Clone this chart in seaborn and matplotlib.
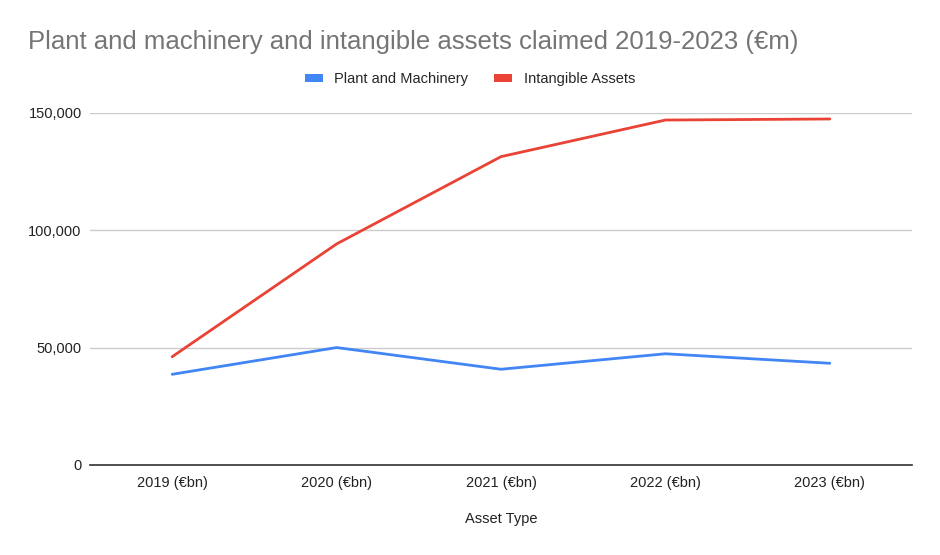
import pandas as pd
import matplotlib.pyplot as plt
import seaborn as sns
from matplotlib.patches import Patch
from matplotlib.ticker import FuncFormatter

# data
years = ['2019 (€bn)', '2020 (€bn)', '2021 (€bn)', '2022 (€bn)', '2023 (€bn)']
plant_machinery = [38650, 50050, 40800, 47400, 43350]
intangible_assets = [46150, 94200, 131400, 147000, 147450]
series_names = ['Plant and Machinery', 'Intangible Assets']
colors = ['#4285F4', '#EA4335']


def main():
    sns.set_style("white")
    plt.rcParams['font.family'] = ['Liberation Sans', 'DejaVu Sans']

    df = pd.DataFrame({
        'Asset Type': years * 2,
        'value': plant_machinery + intangible_assets,
        'series': [series_names[0]] * len(years) + [series_names[1]] * len(years),
    })

    fig = plt.figure(figsize=(9.4, 5.55), dpi=100)
    ax = fig.add_axes([90 / 940, 1 - 465 / 555, (912 - 90) / 940, (465 - 113) / 555])

    sns.lineplot(data=df, x='Asset Type', y='value', hue='series',
                 palette=colors, linewidth=2, ax=ax, legend=False, sort=False)

    ax.set_xlim(-0.5, len(years) - 0.5)
    ax.set_ylim(0, 150000)
    ax.set_yticks([0, 50000, 100000, 150000])
    ax.yaxis.set_major_formatter(FuncFormatter(lambda v, p: f"{int(v):,}"))

    # gridlines
    ax.grid(axis='y', color='#cccccc', linewidth=1)
    ax.set_axisbelow(True)
    for s in ['left', 'right', 'top']:
        ax.spines[s].set_visible(False)
    ax.spines['bottom'].set_color('#333333')
    ax.spines['bottom'].set_linewidth(1.2)
    ax.spines['bottom'].set_zorder(5)
    ax.tick_params(axis='both', length=0, labelsize=10.5, colors='#222222', pad=6)
    ax.tick_params(axis='x', pad=8)

    ax.set_xlabel('Asset Type', fontsize=10.5, color='#222222', labelpad=16)
    ax.set_ylabel('')

    fig.text(28 / 940, 1 - 42 / 555, 'Plant and machinery and intangible assets claimed 2019-2023 (€m)',
             fontsize=18.5, color='#757575', va='center', ha='left')

    # legend
    handles = [Patch(facecolor=c, edgecolor='none') for c in colors]
    fig.legend(handles, series_names, loc='center', bbox_to_anchor=(470 / 940, 1 - 79 / 555),
               ncol=2, frameon=False, fontsize=10.5, handlelength=1.2, handleheight=0.45,
               handletextpad=0.8, columnspacing=1.8)

    fig.savefig('out.png', dpi=100)


if __name__ == "__main__":
    main()
